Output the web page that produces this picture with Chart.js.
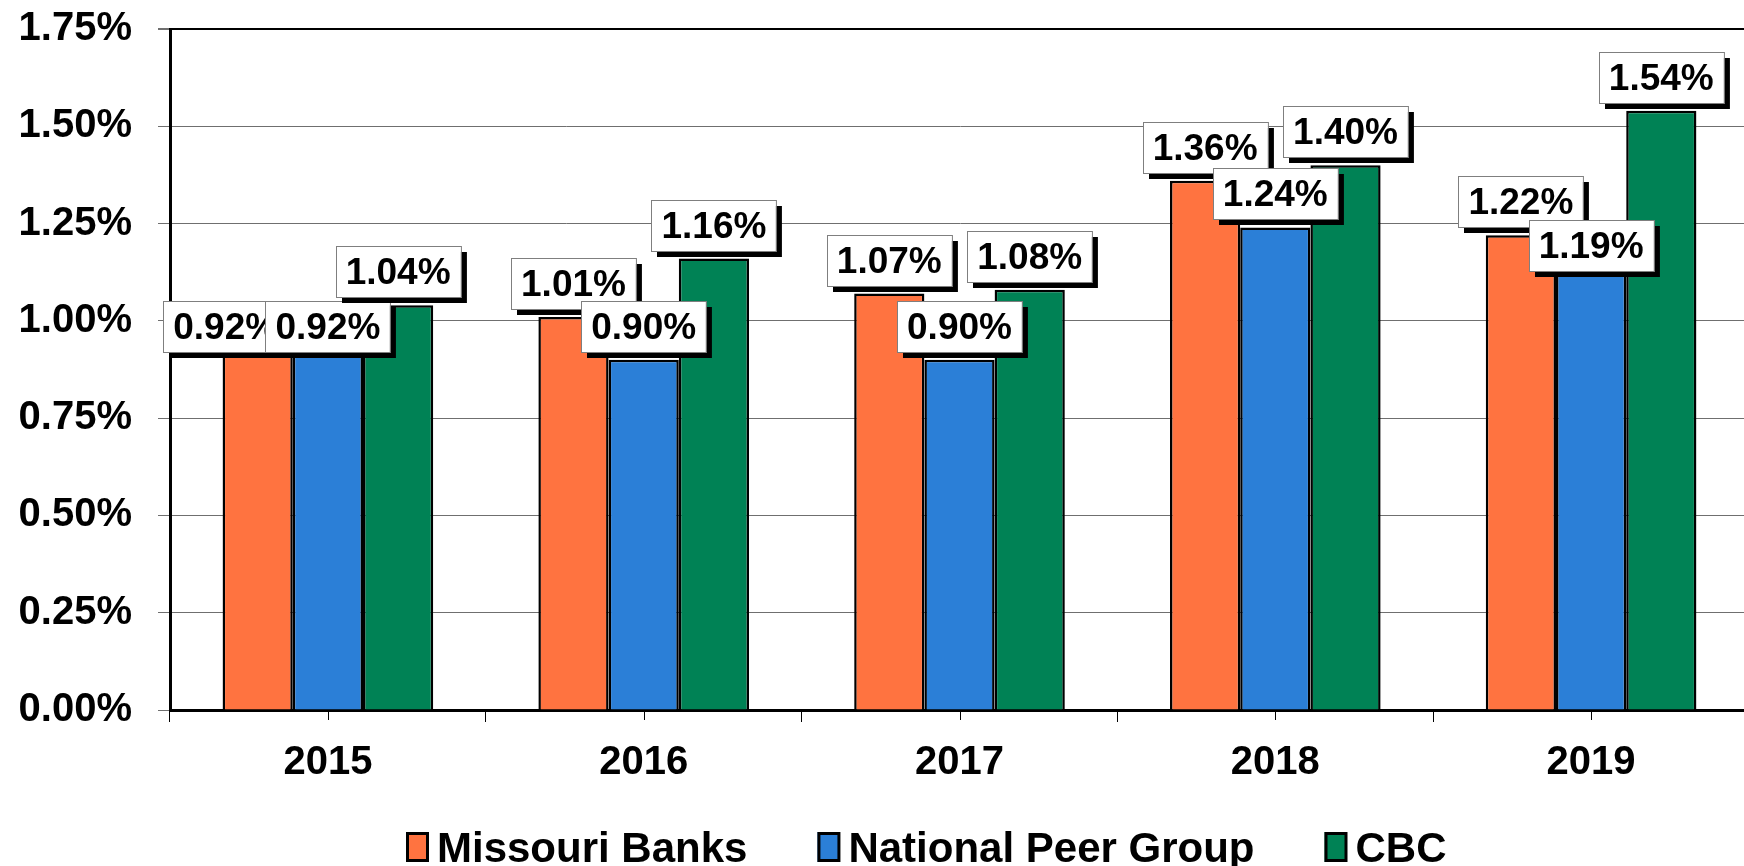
<!DOCTYPE html>
<html>
<head>
<meta charset="utf-8">
<title>Return on average assets</title>
<script src="https://cdn.jsdelivr.net/npm/chart.js@4.4.1/dist/chart.umd.min.js"></script>
<style>
  html, body { margin: 0; padding: 0; background: #fff; overflow: hidden; }
  #wrap { width: 1749px; height: 866px; position: relative; }
</style>
</head>
<body>
<div id="wrap"><canvas id="roaChart"></canvas></div>
<script>
const categories = ["2015", "2016", "2017", "2018", "2019"];
const missouriBanks = [0.92, 1.01, 1.07, 1.36, 1.22];
const nationalPeerGroup = [0.92, 0.90, 0.90, 1.24, 1.19];
const cbc = [1.04, 1.16, 1.08, 1.40, 1.54];
const yTicks = [0, 0.25, 0.5, 0.75, 1.0, 1.25, 1.5, 1.75];

const FONT = "'Liberation Sans', Arial, sans-serif";
Chart.defaults.font.family = FONT;
Chart.defaults.color = "#000";

// label boxes that Excel moved off their default spot ("dataset-index": [dx, dy])
const labelNudge = { "0-0": [-32, 8], "1-0": [0, 8], "1-4": [0, 32] };

/* ===== value labels: white box, grey edge, black drop shadow ===== */
const boxLabels = {
  id: "boxLabels",
  afterDatasetsDraw(chart) {
    const ctx = chart.ctx;
    ctx.save();
    ctx.font = "bold 37px " + FONT;
    ctx.textAlign = "center";
    ctx.textBaseline = "middle";
    chart.data.datasets.forEach((ds, di) => {
      chart.getDatasetMeta(di).data.forEach((bar, i) => {
        const text = ds.data[i].toFixed(2) + "%";
        const w = ctx.measureText(text).width + 20;
        const h = 51;
        const nudge = labelNudge[di + "-" + i] || [0, 0];
        const cx = bar.x + nudge[0];
        const bottom = bar.y - 8 + nudge[1];
        const left = Math.round(cx - w / 2), top = Math.round(bottom - h);
        ctx.fillStyle = "#000";
        ctx.fillRect(left + 6, top + 6, w, h);
        ctx.fillStyle = "#fff";
        ctx.fillRect(left, top, w, h);
        ctx.strokeStyle = "#7f7f7f";
        ctx.lineWidth = 1;
        ctx.strokeRect(left + 0.5, top + 0.5, w, h);
        ctx.fillStyle = "#000";
        ctx.fillText(text, cx, top + h / 2 + 2);
      });
    });
    ctx.restore();
  }
};

/* ===== extra tick marks at each category centre ===== */
const centreTicks = {
  id: "centreTicks",
  afterDraw(chart) {
    const x = chart.scales.x, ctx = chart.ctx;
    ctx.save();
    ctx.strokeStyle = "#000";
    ctx.lineWidth = 1;
    categories.forEach((c, i) => {
      const px = Math.round(x.getPixelForValue(i)) + 0.5;
      ctx.beginPath();
      ctx.moveTo(px, chart.chartArea.bottom);
      ctx.lineTo(px, chart.chartArea.bottom + 10);
      ctx.stroke();
    });
    ctx.restore();
  }
};

/* ===== legend row under the axis, drawn from the datasets ===== */
const bottomLegend = {
  id: "bottomLegend",
  afterDraw(chart) {
    const ctx = chart.ctx;
    ctx.save();
    ctx.font = "bold 42px " + FONT;
    ctx.textBaseline = "alphabetic";
    ctx.textAlign = "left";
    const items = chart.data.datasets.map(ds => ({
      text: ds.label, color: ds.backgroundColor, w: ctx.measureText(ds.label).width
    }));
    const total = items.reduce((s, it) => s + 31 + it.w, 0) + 70 * (items.length - 1);
    let x = Math.round(926 - total / 2);
    items.forEach(it => {
      ctx.fillStyle = it.color;
      ctx.fillRect(x, 832, 22, 30);
      ctx.strokeStyle = "#000";
      ctx.lineWidth = 3;
      ctx.strokeRect(x + 1.5, 833.5, 20, 27);
      ctx.fillStyle = "#000";
      ctx.fillText(it.text, x + 31, 862);
      x += 31 + it.w + 70;
    });
    ctx.restore();
  }
};

new Chart(document.getElementById("roaChart"), {
  type: "bar",
  data: {
    labels: categories,
    datasets: [
      { label: "Missouri Banks", data: missouriBanks, backgroundColor: "#FF7340" },
      { label: "National Peer Group", data: nationalPeerGroup, backgroundColor: "#2B7FD7" },
      { label: "CBC", data: cbc, backgroundColor: "#008255" }
    ]
  },
  options: {
    responsive: true,
    maintainAspectRatio: false,
    animation: false,
    devicePixelRatio: 1,
    layout: { padding: { top: 29, right: 0, left: 0, bottom: 0 } },
    datasets: {
      bar: {
        categoryPercentage: 0.667,
        barPercentage: 1,
        borderColor: "#000",
        borderWidth: 2.5,
        borderSkipped: "bottom"
      }
    },
    plugins: {
      tooltip: { enabled: false },
      legend: { display: false }
    },
    scales: {
      x: {
        grid: {
          offset: true,
          drawOnChartArea: false,
          drawTicks: true,
          tickLength: 12,
          color: "#000"
        },
        border: { display: true, color: "#000", width: 3 },
        ticks: { font: { size: 40, weight: "bold" }, color: "#000", padding: 17 },
        afterFit(s) { s.height = 156; s.paddingLeft = 0; s.paddingRight = 0; }
      },
      y: {
        min: 0,
        max: 1.75,
        afterBuildTicks(s) { s.ticks = yTicks.map(v => ({ value: v })); },
        grid: {
          color: c => (c.tick && c.tick.value === 1.75 ? "#000" : "#6f6f6f"),
          lineWidth: c => (c.tick && c.tick.value === 1.75 ? 2 : 1),
          tickColor: "#6f6f6f",
          tickLength: 12
        },
        border: { display: true, color: "#000", width: 3 },
        ticks: {
          font: { size: 40, weight: "bold" },
          color: "#000",
          padding: 26,
          callback: v => v.toFixed(2) + "%"
        },
        afterFit(s) { s.width = 170; s.paddingTop = 0; s.paddingBottom = 0; }
      }
    }
  },
  plugins: [boxLabels, centreTicks, bottomLegend]
});
</script>
</body>
</html>
